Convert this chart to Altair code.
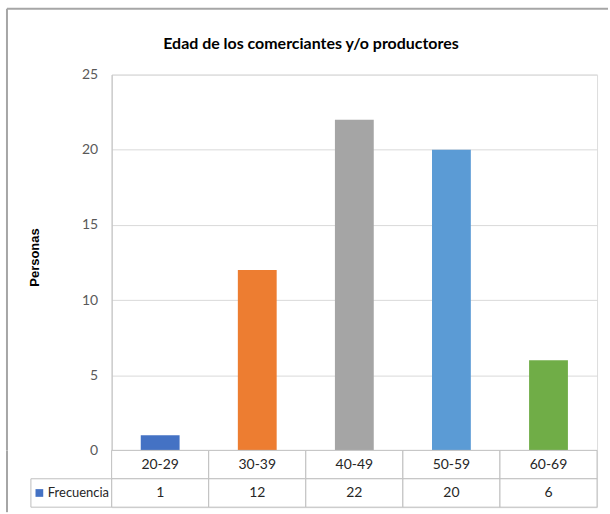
import altair as alt
import pandas as pd

# ---- data ----
edades = ["20-29", "30-39", "40-49", "50-59", "60-69"]
frecuencia = [1, 12, 22, 20, 6]
colores = ["#4472C4", "#ED7D31", "#A5A5A5", "#5B9BD5", "#70AD47"]
y_ticks = [0, 5, 10, 15, 20, 25]
serie = "Frecuencia"
titulo = "Edad de los comerciantes y/o productores"
y_titulo = "Personas"

FONT = "Lato"
W, H = 487, 377
TH = 57
BORDER = "#A6A6A6"

df = pd.DataFrame({"edad": edades, "frecuencia": frecuencia})
one = pd.DataFrame({"k": [0]})

x_main = alt.X("edad:N", sort=edades,
               scale=alt.Scale(paddingInner=0.6, paddingOuter=0.3), axis=None)
y_main = alt.Y("frecuencia:Q",
               scale=alt.Scale(domain=[0, 25], nice=False),
               axis=alt.Axis(values=y_ticks, title=y_titulo, ticks=False,
                             labelFont=FONT, labelFontSize=14, labelColor="#595959",
                             labelPadding=14, titleFont="Liberation Sans",
                             titleFontSize=13, titleFontWeight="bold",
                             titleColor="#000000", titlePadding=40, titleY=183,
                             gridColor="#D9D9D9", domainColor="#BFBFBF"))

bars = alt.Chart(df).mark_bar().encode(
    x=x_main, y=y_main,
    color=alt.Color("edad:N", scale=alt.Scale(domain=edades, range=colores), legend=None),
)

title_mark = alt.Chart(one).mark_text(
    font=FONT, fontSize=16, fontWeight="bold", color="#000000", align="center", baseline="alphabetic"
).encode(x=alt.value(200), y=alt.value(-26), text=alt.value(titulo))

border_left = alt.Chart(one).mark_rule(color=BORDER, strokeWidth=2).encode(
    x=alt.value(-105), y=alt.value(-66), y2=alt.value(H))
border_top = alt.Chart(one).mark_rule(color=BORDER, strokeWidth=2).encode(
    x=alt.value(-105), x2=alt.value(W + 11), y=alt.value(-66))

main = alt.layer(border_left, border_top, bars, title_mark).properties(width=W, height=H)

# ---- data table below ----
rows = pd.DataFrame({
    "edad": edades * 2,
    "fila": ["cat"] * len(edades) + ["freq"] * len(edades),
    "texto": edades + [str(v) for v in frecuencia],
})
tx = alt.X("edad:N", sort=edades, scale=alt.Scale(paddingInner=0, paddingOuter=0), axis=None)
ty = alt.Y("fila:N", sort=["cat", "freq"], scale=alt.Scale(paddingInner=0, paddingOuter=0), axis=None)

cells = alt.Chart(rows).mark_rect(fill="white", stroke="#BFBFBF", strokeWidth=1).encode(x=tx, y=ty)
cell_text = alt.Chart(rows).mark_text(font=FONT, fontSize=14, color="#262626").encode(
    x=tx, y=ty, text="texto:N")

lab = pd.DataFrame({"fila": ["freq"], "serie": [serie]})
lab_cell = alt.Chart(lab).mark_rect(fill="white", stroke="#BFBFBF", strokeWidth=1).encode(
    x=alt.value(-81), x2=alt.value(0), y=ty)
lab_text = alt.Chart(lab).mark_text(font=FONT, fontSize=13, color="#262626", align="left").encode(
    x=alt.value(-64), y=ty, text="serie:N")
lab_key = alt.Chart(lab).mark_square(size=60, color="#4472C4", opacity=1).encode(
    x=alt.value(-72.5), y=ty)
border_left2 = alt.Chart(one).mark_rule(color=BORDER, strokeWidth=2).encode(
    x=alt.value(-105), y=alt.value(0), y2=alt.value(62))

table = alt.layer(border_left2, cells, cell_text, lab_cell, lab_text, lab_key).properties(width=W, height=TH)

chart = alt.vconcat(main, table, spacing=0, bounds="flush").properties(
    padding={"left": 5, "top": 6, "right": 0, "bottom": 0}
).configure_view(stroke=None).configure(background="white")

chart.save("out.html", embed_options={"renderer": "svg", "actions": False})
